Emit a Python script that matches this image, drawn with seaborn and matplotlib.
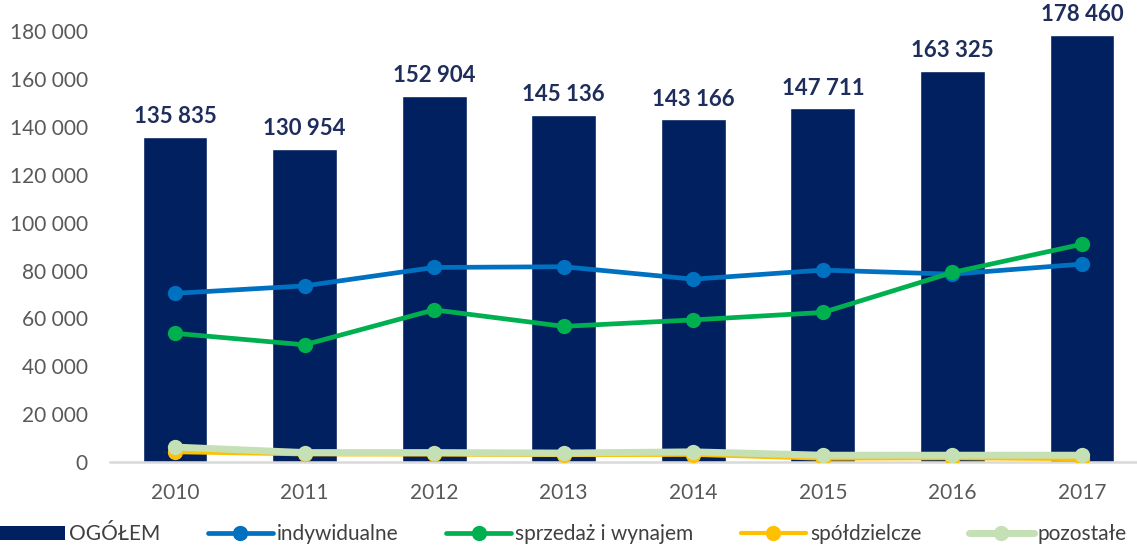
import pandas as pd
import matplotlib
matplotlib.use("Agg")
import matplotlib.pyplot as plt
from matplotlib.patches import Patch
from matplotlib.lines import Line2D
from matplotlib.ticker import FuncFormatter, MultipleLocator
import seaborn as sns

# dane
lata = ['2010', '2011', '2012', '2013', '2014', '2015', '2016', '2017']
ogolem = [135835, 130954, 152904, 145136, 143166, 147711, 163325, 178460]
indywidualne = [70500, 73600, 81300, 81600, 76400, 80200, 78500, 82700]
sprzedaz_wynajem = [53800, 49000, 63600, 56700, 59400, 62500, 79200, 91000]
spoldzielcze = [4200, 3300, 3200, 3000, 3100, 1500, 1700, 1300]
pozostale = [6300, 4000, 4000, 3800, 4300, 2900, 2900, 2900]

sns.set_style('white')
plt.rcParams['font.family'] = ['Lato', 'DejaVu Sans']

granat = '#002060'
serie = [
    ('indywidualne', indywidualne, '#0070C0', 3.4),
    ('sprzedaż i wynajem', sprzedaz_wynajem, '#00B050', 3.4),
    ('spółdzielcze', spoldzielcze, '#FFC000', 3.0),
    ('pozostałe', pozostale, '#C5E0B4', 5.0),
]

fig = plt.figure(figsize=(11.37, 5.45), dpi=100)
ax = fig.add_axes([0.0969, 0.152, 0.9117, 0.791])

sns.barplot(x=lata, y=ogolem, color=granat, width=0.5, saturation=1, ax=ax)
etykiety = [f'{v:,}'.replace(',', ' ') for v in ogolem]
ax.bar_label(ax.containers[0], labels=etykiety, padding=7, fontsize=16,
             fontweight='bold', color='#1F2D5C')

for nazwa, wartosci, kolor, lw in serie:
    sns.lineplot(x=lata, y=wartosci, color=kolor, linewidth=lw, marker='o',
                 markersize=11, markeredgewidth=0, sort=False, ax=ax, zorder=3)

ax.set_xlim(-0.5, 7.5)
ax.set_ylim(0, 180000)
ax.yaxis.set_major_locator(MultipleLocator(20000))
ax.yaxis.set_major_formatter(FuncFormatter(lambda v, p: f'{int(v):,}'.replace(',', ' ')))
ax.tick_params(axis='y', length=0, pad=16, labelsize=15, labelcolor='#595959')
ax.tick_params(axis='x', length=0, pad=15, labelsize=15, labelcolor='#595959')
ax.set_xlabel('')
ax.set_ylabel('')
for s in ['top', 'right', 'left']:
    ax.spines[s].set_visible(False)
ax.spines['bottom'].set_color('#D9D9D9')
ax.spines['bottom'].set_linewidth(1.8)
ax.grid(False)

uchwyty = [Patch(facecolor=granat, edgecolor='none', label='OGÓŁEM')]
for nazwa, wartosci, kolor, lw in serie:
    uchwyty.append(Line2D([0], [0], color=kolor, linewidth=lw, marker='o',
                          markersize=11, markeredgewidth=0, label=nazwa))
fig.legend(handles=uchwyty, loc='center left', bbox_to_anchor=(0.0, 0.02),
           ncol=5, frameon=False, fontsize=15, handlelength=3.1,
           handletextpad=0.2, columnspacing=2.3, borderpad=0,
           borderaxespad=0, labelcolor='#404040')

fig.savefig('out.png', dpi=100)
